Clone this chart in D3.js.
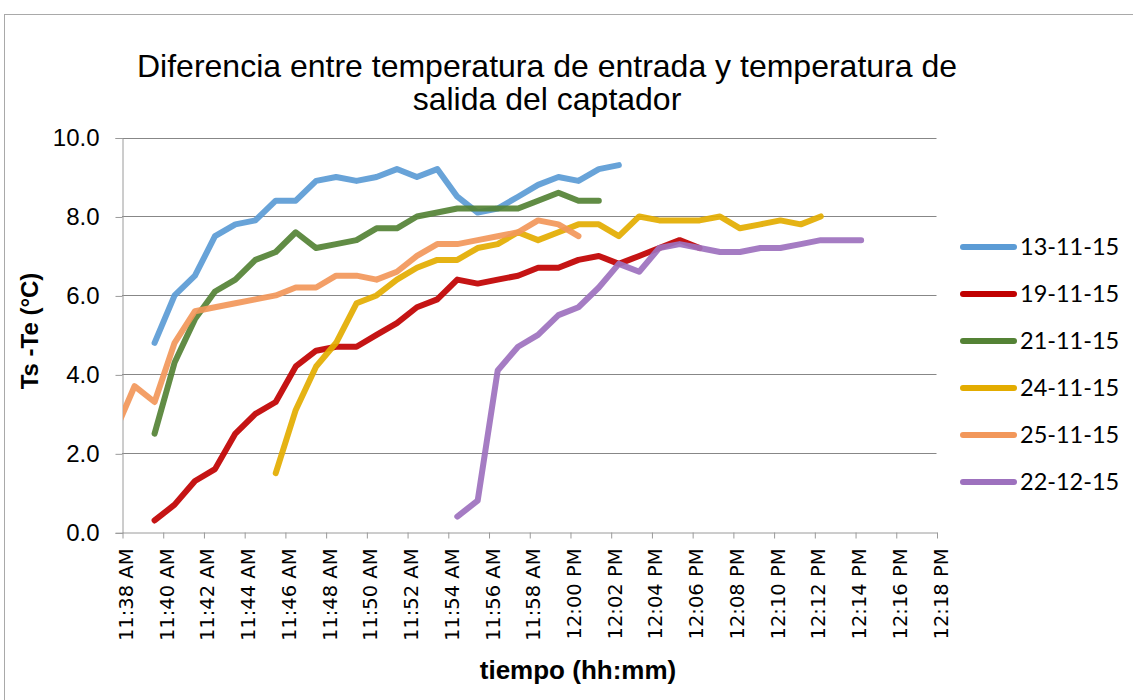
<!DOCTYPE html>
<html>
<head>
<meta charset="utf-8">
<script src="https://d3js.org/d3.v7.min.js"></script>
<style>
  body { margin: 0; background: #fff; }
  svg { display: block; }
</style>
</head>
<body>
<svg id="chart" width="1133" height="700"></svg>
<script>
// horas de muestreo (comunes a todas las series)
var horas = ["11:37:37", "11:38:37", "11:39:36", "11:40:35", "11:41:35", "11:42:34", "11:43:34",
    "11:44:33", "11:45:33", "11:46:32", "11:47:32", "11:48:31", "11:49:31", "11:50:30", "11:51:30",
    "11:52:29", "11:53:29", "11:54:28", "11:55:28", "11:56:27", "11:57:27", "11:58:26", "11:59:26",
    "12:00:25", "12:01:25", "12:02:24", "12:03:24", "12:04:23", "12:05:23", "12:06:22", "12:07:22",
    "12:08:21", "12:09:21", "12:10:20", "12:11:20", "12:12:19", "12:13:19", "12:14:18"];

var nombres = ["13-11-15", "19-11-15", "21-11-15", "24-11-15", "25-11-15", "22-12-15"];
var colores = ["#5B9BD5", "#C00000", "#548235", "#E3AC00", "#F2975A", "#9D71BE"];
// posicion en "horas" del primer dato de cada serie
var inicios = [2, 2, 2, 8, 0, 17];

var d13_11 = [4.8, 6.0, 6.5, 7.5, 7.8, 7.9, 8.4, 8.4, 8.9, 9.0, 8.9, 9.0, 9.2, 9.0, 9.2, 8.5, 8.1, 8.2,
    8.5, 8.8, 9.0, 8.9, 9.2, 9.3];
var d19_11 = [0.3, 0.7, 1.3, 1.6, 2.5, 3.0, 3.3, 4.2, 4.6, 4.7, 4.7, 5.0, 5.3, 5.7, 5.9, 6.4, 6.3, 6.4,
    6.5, 6.7, 6.7, 6.9, 7.0, 6.8, 7.0, 7.2, 7.4, 7.2];
var d21_11 = [2.5, 4.3, 5.4, 6.1, 6.4, 6.9, 7.1, 7.6, 7.2, 7.3, 7.4, 7.7, 7.7, 8.0, 8.1, 8.2, 8.2, 8.2,
    8.2, 8.4, 8.6, 8.4, 8.4];
var d24_11 = [1.5, 3.1, 4.2, 4.8, 5.8, 6.0, 6.4, 6.7, 6.9, 6.9, 7.2, 7.3, 7.6, 7.4, 7.6, 7.8, 7.8, 7.5,
    8.0, 7.9, 7.9, 7.9, 8.0, 7.7, 7.8, 7.9, 7.8, 8.0];
var d25_11 = [2.5, 3.7, 3.3, 4.8, 5.6, 5.7, 5.8, 5.9, 6.0, 6.2, 6.2, 6.5, 6.5, 6.4, 6.6, 7.0, 7.3, 7.3,
    7.4, 7.5, 7.6, 7.9, 7.8, 7.5];
var d22_12 = [0.4, 0.8, 4.1, 4.7, 5.0, 5.5, 5.7, 6.2, 6.8, 6.6, 7.2, 7.3, 7.2, 7.1, 7.1, 7.2, 7.2, 7.3,
    7.4, 7.4, 7.4];

var valores = [d13_11, d19_11, d21_11, d24_11, d25_11, d22_12];

var yTicks = [0, 2, 4, 6, 8, 10];

var parseHora = d3.timeParse("%H:%M:%S");
var svg = d3.select("#chart");

// limites del area de trazado
var plotLeft = 122, plotRight = 936.5, plotTop = 137.5, plotBottom = 532.3;

var x = d3.scaleTime()
    .domain([parseHora("11:38:00"), parseHora("12:18:00")])
    .range([plotLeft, plotRight]);

var y = d3.scaleLinear()
    .domain([0, 10])
    .range([plotBottom, plotTop]);

// borde del area del grafico
svg.append("rect")
    .attr("x", 4.5).attr("y", 14.5)
    .attr("width", 1300).attr("height", 900)
    .attr("fill", "#fff")
    .attr("stroke", "#a9a9a9")
    .attr("stroke-width", 1);

// titulo
var titulo = svg.append("text")
    .attr("text-anchor", "middle")
    .attr("font-family", "Liberation Sans, Arial, sans-serif")
    .attr("font-size", 32)
    .attr("fill", "#000");
titulo.append("tspan").attr("x", 547).attr("y", 77)
    .text("Diferencia entre temperatura de entrada y temperatura de");
titulo.append("tspan").attr("x", 547).attr("y", 110)
    .text("salida del captador");

// lineas de cuadricula
svg.append("g")
    .selectAll("line")
    .data(yTicks.slice(1))
    .enter().append("line")
    .attr("x1", plotLeft).attr("x2", plotRight)
    .attr("y1", function(d) { return Math.round(y(d)) + 0.5; })
    .attr("y2", function(d) { return Math.round(y(d)) + 0.5; })
    .attr("stroke", "#878787")
    .attr("stroke-width", 1);

// eje y
var yAxis = d3.axisLeft(y)
    .tickValues(yTicks)
    .tickFormat(d3.format(".1f"))
    .tickSize(7)
    .tickPadding(16);

var gy = svg.append("g")
    .attr("transform", "translate(" + (plotLeft + 0.5) + ",0.5)")
    .call(yAxis);
gy.select(".domain").attr("stroke", "#9a9a9a");
gy.selectAll(".tick line").attr("stroke", "#9a9a9a");
gy.selectAll("text")
    .attr("font-family", "Liberation Sans, Arial, sans-serif")
    .attr("font-size", 24)
    .attr("fill", "#000");

// eje x
var xAxis = d3.axisBottom(x)
    .ticks(d3.timeMinute.every(2))
    .tickFormat(d3.timeFormat("%-I:%M %p"))
    .tickSize(6)
    .tickSizeOuter(0);

var gx = svg.append("g")
    .attr("transform", "translate(0.5," + (Math.round(plotBottom) + 0.5) + ")")
    .call(xAxis);
gx.select(".domain").attr("stroke", "#9a9a9a");
gx.selectAll(".tick line").attr("stroke", "#9a9a9a");
gx.selectAll("text")
    .attr("font-family", "DejaVu Sans, sans-serif")
    .attr("font-size", 19.5)
    .attr("fill", "#000")
    .attr("text-anchor", "end")
    .attr("transform", "rotate(-90)")
    .attr("x", -16)
    .attr("y", 0)
    .attr("dy", "10px");

// titulos de ejes
svg.append("text")
    .attr("transform", "translate(38,331) rotate(-90)")
    .attr("text-anchor", "middle")
    .attr("font-family", "Liberation Sans, Arial, sans-serif")
    .attr("font-weight", "bold")
    .attr("font-size", 24)
    .text("Ts -Te (°C)");

svg.append("text")
    .attr("x", 578)
    .attr("y", 679)
    .attr("text-anchor", "middle")
    .attr("font-family", "Liberation Sans, Arial, sans-serif")
    .attr("font-weight", "bold")
    .attr("font-size", 26)
    .text("tiempo (hh:mm)");

// recorte al area de trazado
svg.append("clipPath")
    .attr("id", "recorte")
    .append("rect")
    .attr("x", plotLeft + 1).attr("y", 0)
    .attr("width", plotRight - plotLeft + 10).attr("height", plotBottom + 3);

var linea = d3.line()
    .x(function(d) { return x(d.t); })
    .y(function(d) { return y(d.v); });

var series = [];
for (var i = 0; i < nombres.length; i++) {
    var puntos = [];
    for (var j = 0; j < valores[i].length; j++) {
        puntos.push({t: parseHora(horas[inicios[i] + j]), v: valores[i][j]});
    }
    series.push({nombre: nombres[i], color: colores[i], puntos: puntos});
}

svg.append("g")
    .attr("clip-path", "url(#recorte)")
    .selectAll("path")
    .data(series)
    .enter().append("path")
    .attr("d", function(d) { return linea(d.puntos); })
    .attr("fill", "none")
    .attr("stroke", function(d) { return d.color; })
    .attr("stroke-width", 6)
    .attr("stroke-linejoin", "round")
    .attr("stroke-linecap", "round")
    .attr("stroke-opacity", 0.92);

// leyenda
var leyenda = svg.append("g")
    .selectAll("g")
    .data(series)
    .enter().append("g")
    .attr("transform", function(d, i) { return "translate(0," + (247 + i * 47) + ")"; });

leyenda.append("line")
    .attr("x1", 963).attr("x2", 1014)
    .attr("y1", 0).attr("y2", 0)
    .attr("stroke", function(d) { return d.color; })
    .attr("stroke-width", 6)
    .attr("stroke-linecap", "round");

leyenda.append("text")
    .attr("x", 1020)
    .attr("y", 0)
    .attr("dy", "0.36em")
    .attr("font-family", "Lato, sans-serif")
    .attr("font-size", 23.5)
    .attr("fill", "#000")
    .text(function(d) { return d.nombre; });
</script>
</body>
</html>
